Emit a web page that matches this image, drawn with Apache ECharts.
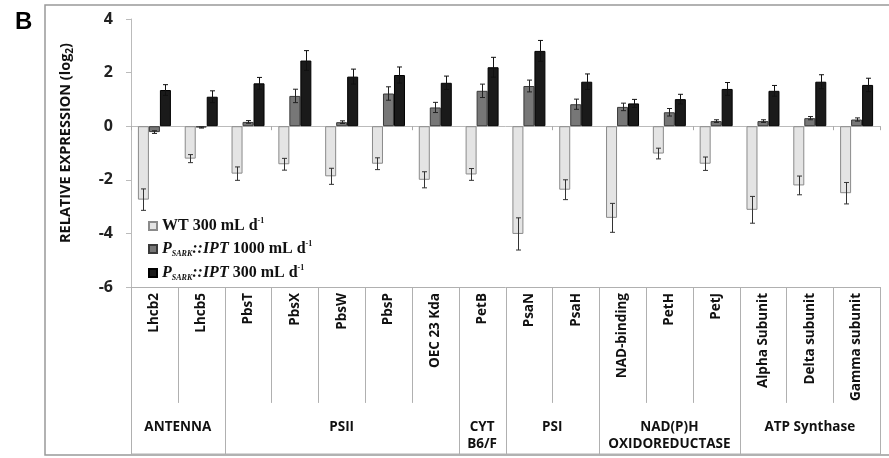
<!DOCTYPE html>
<html><head><meta charset="utf-8">
<script src="https://cdn.jsdelivr.net/npm/echarts@6/dist/echarts.min.js"></script>
<style>html,body{margin:0;padding:0;background:#fff}#c{width:889px;height:458px}</style>
</head><body><div id="c"></div>
<script>
const categories = ['Lhcb2','Lhcb5','PbsT','PbsX','PbsW','PbsP','OEC 23 Kda','PetB','PsaN','PsaH','NAD-binding','PetH','PetJ','Alpha Subunit','Delta subunit','Gamma subunit'];
const groupNames = ['ANTENNA','PSII','CYT\nB6/F','PSI','NAD(P)H\nOXIDOREDUCTASE','ATP Synthase'];
const groupSizes = [2,5,1,2,3,3];
const yTicks = [-6,-4,-2,0,2,4];
const seriesNames = ['WT 300 mL d-1','PSARK::IPT 1000 mL d-1','PSARK::IPT 300 mL d-1'];
const wt = [-2.74,-1.21,-1.77,-1.42,-1.87,-1.40,-2.0,-1.8,-4.02,-2.37,-3.42,-1.02,-1.40,-3.12,-2.21,-2.5];
const wtErr = [0.4,0.15,0.25,0.22,0.3,0.22,0.3,0.22,0.6,0.37,0.54,0.2,0.25,0.5,0.35,0.4];
const ipt1000 = [-0.22,-0.05,0.16,1.13,0.15,1.22,0.7,1.32,1.5,0.82,0.72,0.52,0.19,0.19,0.3,0.25];
const ipt1000Err = [0.05,0.02,0.05,0.25,0.05,0.25,0.19,0.25,0.22,0.19,0.14,0.14,0.05,0.05,0.06,0.06];
const ipt300 = [1.35,1.10,1.6,2.45,1.85,1.91,1.62,2.2,2.81,1.66,0.85,1.01,1.39,1.32,1.66,1.54];
const ipt300Err = [0.2,0.22,0.22,0.37,0.28,0.3,0.25,0.37,0.39,0.29,0.15,0.18,0.24,0.2,0.26,0.25];

const BAR_W = 11;
const INNER_LEN = 0.69;
const SANS = 'Open Sans';
const chart = echarts.init(document.getElementById('c'), null, {renderer:'canvas'});

function errSeries(vals, errs, k, color){
  return {
    type:'custom', xAxisIndex:0, yAxisIndex:0, z:5, silent:true,
    data: vals.map((v,i)=>[i, v, errs[i]]),
    renderItem(params, api){
      const i = api.value(0), v = api.value(1), e = api.value(2);
      const t = api.coord([i, v+e]), b = api.coord([i, v-e]);
      const x = Math.round(t[0] + (k-1)*BAR_W) + 0.5;
      const cap = 2.5;
      const st = {stroke:color, lineWidth:1};
      return {type:'group', children:[
        {type:'line', shape:{x1:x,y1:t[1],x2:x,y2:b[1]}, style:st},
        {type:'line', shape:{x1:x-cap,y1:t[1],x2:x+cap,y2:t[1]}, style:st},
        {type:'line', shape:{x1:x-cap,y1:b[1],x2:x+cap,y2:b[1]}, style:st}
      ]};
    }
  };
}

const boundaries = [];
const groupCenters = [];
let acc = 0;
const groupEdges = new Set([0]);
groupSizes.forEach((s,j)=>{ groupCenters.push([acc + s/2, 0.785, j]); acc += s; groupEdges.add(acc); });
for(let b=0;b<=categories.length;b++){ boundaries.push([b, groupEdges.has(b)?1:INNER_LEN]); }

const lineColor = '#b0b0b0';
const serifRich = {
  n:{fontFamily:'Liberation Serif', fontWeight:'bold', fontSize:16, color:'#111', lineHeight:18},
  i:{fontFamily:'Liberation Serif', fontWeight:'bold', fontStyle:'italic', fontSize:16, color:'#111', lineHeight:18},
  sub:{fontFamily:'Liberation Serif', fontWeight:'bold', fontStyle:'italic', fontSize:8, color:'#111', lineHeight:18, verticalAlign:'bottom'},
  sup:{fontFamily:'Liberation Serif', fontWeight:'bold', fontSize:8, color:'#111', lineHeight:18, verticalAlign:'top'}
};
const legendFmt = {};
legendFmt[seriesNames[0]] = '{n|WT 300 mL d}{sup|-1}';
legendFmt[seriesNames[1]] = '{i|P}{sub|SARK}{i|::IPT}{n| 1000 mL d}{sup|-1}';
legendFmt[seriesNames[2]] = '{i|P}{sub|SARK}{i|::IPT}{n| 300 mL d}{sup|-1}';

const option = {
  animation:false,
  backgroundColor:'#fff',
  title:{text:'B', left:10, top:5, textStyle:{fontFamily:'Liberation Sans', fontWeight:'bold', fontSize:24, color:'#000'}},
  graphic:[{type:'rect', z:-10, shape:{x:45, y:5, width:900, height:450}, style:{fill:'none', stroke:'#999', lineWidth:1.5}}],
  legend:{
    data:seriesNames, orient:'vertical', left:143, top:212, itemWidth:8, itemHeight:8, itemGap:6, icon:'rect',
    formatter: name => legendFmt[name],
    textStyle:{fontFamily:'Liberation Serif', fontWeight:'bold', fontSize:16, color:'#111', rich:serifRich}
  },
  grid:[
    {left:131, right:9, top:19, bottom:171, containLabel:false, outerBoundsMode:'none'},
    {left:131, right:9, top:287, bottom:3, containLabel:false, outerBoundsMode:'none'}
  ],
  xAxis:[
    {type:'category', gridIndex:0, data:categories, position:'bottom',
     axisLine:{onZero:true, lineStyle:{color:'#bbb'}}, axisTick:{show:true, length:4, lineStyle:{color:'#aaa'}},
     axisLabel:{show:false}, splitLine:{show:false}},
    {type:'category', gridIndex:0, data:categories, position:'bottom',
     axisLine:{onZero:false, lineStyle:{color:lineColor}}, axisTick:{show:false},
     axisLabel:{interval:0, rotate:90, margin:6, fontFamily:SANS, fontWeight:'bold', fontSize:13.5, color:'#111'}},
    {type:'value', gridIndex:1, min:0, max:categories.length, show:false}
  ],
  yAxis:[
    {type:'value', gridIndex:0, min:-6, max:4, interval:2,
     axisLine:{show:true, lineStyle:{color:'#bbb'}}, axisTick:{show:true, length:5, lineStyle:{color:'#bbb'}},
     splitLine:{show:false},
     axisLabel:{fontFamily:SANS, fontWeight:'bold', fontSize:16, color:'#222', margin:18},
     name:'{a|RELATIVE EXPRESSION (log}{s|2}{a|)}', nameLocation:'middle', nameGap:56,
     nameTextStyle:{padding:[0,0,0,20], rich:{
       a:{fontFamily:SANS, fontWeight:'bold', fontSize:14.5, color:'#111', lineHeight:18},
       s:{fontFamily:SANS, fontWeight:'bold', fontSize:10, color:'#111', lineHeight:18, verticalAlign:'bottom'}}}},
    {type:'value', gridIndex:1, min:0, max:1, inverse:true, show:false}
  ],
  series:[
    {name:seriesNames[0], type:'bar', xAxisIndex:0, yAxisIndex:0, data:wt, barWidth:BAR_W, barGap:'0%',
     itemStyle:{color:'#e4e4e4', borderColor:'#8a8a8a', borderWidth:1}},
    {name:seriesNames[1], type:'bar', xAxisIndex:0, yAxisIndex:0, data:ipt1000, barWidth:BAR_W, barGap:'0%',
     itemStyle:{color:'#777', borderColor:'#3a3a3a', borderWidth:1}},
    {name:seriesNames[2], type:'bar', xAxisIndex:0, yAxisIndex:0, data:ipt300, barWidth:BAR_W, barGap:'0%',
     itemStyle:{color:'#1a1a1a', borderColor:'#000', borderWidth:1}},
    errSeries(wt, wtErr, 0, '#333'),
    errSeries(ipt1000, ipt1000Err, 1, '#222'),
    errSeries(ipt300, ipt300Err, 2, '#111'),
    {type:'custom', xAxisIndex:2, yAxisIndex:1, silent:true, data:boundaries,
     renderItem(params, api){
       const a = api.coord([api.value(0), 0]), b = api.coord([api.value(0), api.value(1)]);
       const x = Math.round(a[0]) + 0.5;
       return {type:'line', shape:{x1:x, y1:a[1], x2:x, y2:b[1]}, style:{stroke:lineColor, lineWidth:1}};
     }},
    {type:'custom', xAxisIndex:2, yAxisIndex:1, silent:true, data:[[0, categories.length]],
     renderItem(params, api){
       const a = api.coord([api.value(0), 1]), b = api.coord([api.value(1), 1]);
       return {type:'line', shape:{x1:a[0], y1:a[1]-1, x2:b[0], y2:b[1]-1}, style:{stroke:lineColor, lineWidth:1}};
     }},
    {type:'custom', xAxisIndex:2, yAxisIndex:1, silent:true, data:groupCenters,
     renderItem(params, api){
       const p = api.coord([api.value(0), api.value(1)]);
       return {type:'text', x:p[0], y:p[1], style:{text:groupNames[api.value(2)], align:'center', verticalAlign:'top',
         fontFamily:SANS, fontWeight:'bold', fontSize:13.5, lineHeight:17, fill:'#111'}};
     }}
  ]
};
chart.setOption(option);
</script></body></html>
